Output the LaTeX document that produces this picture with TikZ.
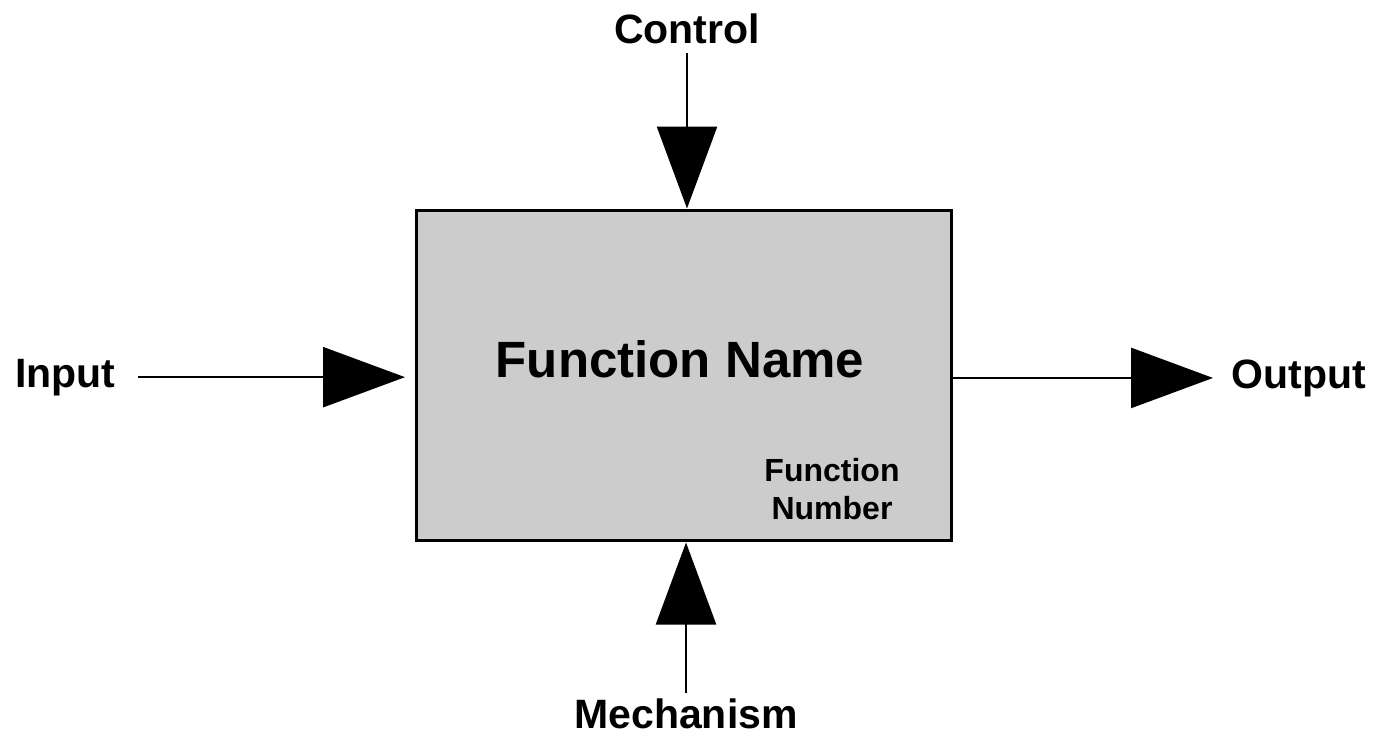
\documentclass[tikz,border=0pt]{standalone}
\usepackage{fontspec}
\setmainfont{Liberation Sans}
\usetikzlibrary{arrows.meta}

\begin{document}
\begin{tikzpicture}[
    x = 0.5pt,
    y = -0.5pt,
    funcbox/.style={
        draw,
        rectangle,
        line width = 1.5pt,
        fill = black!20,
        minimum width = 267.5pt,
        minimum height = 165pt,
        anchor = center,
        },
    label/.style={
        inner sep = 0pt,
        font = \fontsize{20.5pt}{24pt}\selectfont\bfseries,
        },
    flow/.style={
        line width = 1.25pt,
        -{Triangle[length=41pt,width=30pt]},
        },
]

\useasboundingbox (0,0) rectangle (1380,734);

\node [funcbox] (box) at (683.5,375) {};
\node [label, anchor = base, font = \fontsize{25.5pt}{30pt}\selectfont\bfseries] (name) at (680,377) {Function Name};
\node [label, align = center, font = \fontsize{16pt}{19pt}\selectfont\bfseries] (number) at (832,489) {Function\\Number};

\node [label, anchor = base] (control) at (687,43) {Control};
\node [label, anchor = base west] (input) at (15,387) {Input};
\node [label, anchor = base west] (output) at (1231,388) {Output};
\node [label, anchor = base] (mechanism) at (686,728) {Mechanism};

\draw [flow, shorten < = 4.5pt] (control.south) -- (control.south |- box.north);
\draw [flow, shorten < = 11pt, shorten > = 4.75pt] (input.east) -- (box.west |- input.east);
\draw [flow, shorten > = 9pt] (box.east |- output.west) -- (output.west);
\draw [flow, shorten < = 2.5pt, shorten > = 0.5pt] (mechanism.north) -- (mechanism.north |- box.south);

\end{tikzpicture}
\end{document}
